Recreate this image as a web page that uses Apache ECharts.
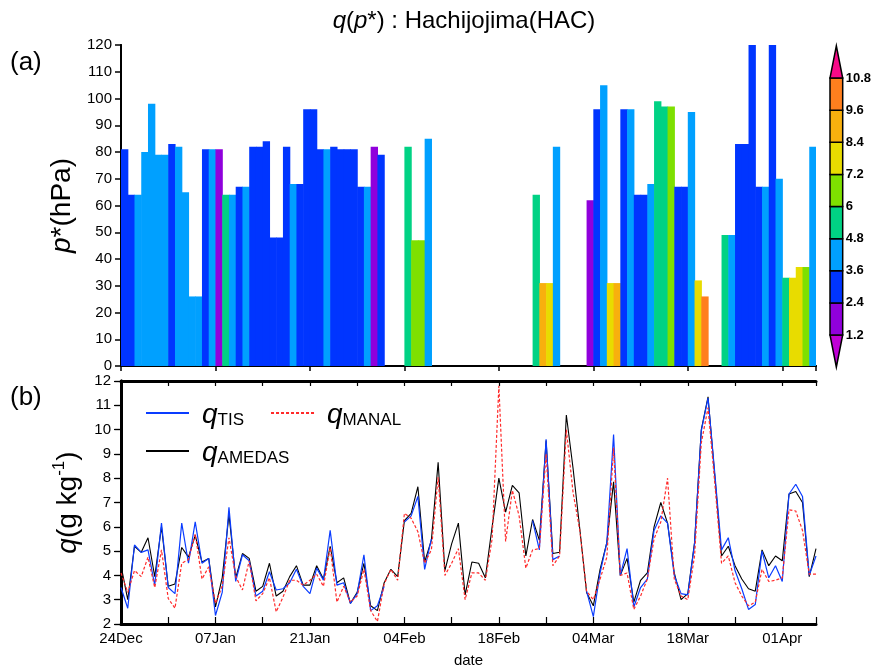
<!DOCTYPE html>
<html><head><meta charset="utf-8">
<script src="https://cdn.jsdelivr.net/npm/echarts@6/dist/echarts.min.js"></script>
<style>html,body{margin:0;padding:0;background:#fff}#c{width:874px;height:669px}</style>
</head><body><div id="c"></div>
<script>
// ---------- data ----------
const xTickDays = [0, 14, 28, 42, 56, 70, 84, 98];
const xTickLabels = ['24Dec', '07Jan', '21Jan', '04Feb', '18Feb', '04Mar', '18Mar', '01Apr'];

const qAMEDAS = [4.4,3.0,5.2,4.95,5.55,3.95,6.0,3.55,3.65,5.15,
 4.75,5.65,4.55,4.7,2.7,3.9,6.5,3.9,4.9,4.7,
 3.35,3.55,4.5,3.15,3.35,3.95,4.4,3.6,3.6,4.4,
 3.85,5.2,3.7,3.9,2.85,3.3,4.5,2.75,2.55,3.7,
 4.25,3.95,6.25,6.55,7.65,4.55,5.45,8.65,4.2,5.3,
 6.15,3.2,4.55,4.5,3.9,6.0,8.0,6.6,7.7,7.4,
 4.8,6.3,5.45,9.55,4.9,4.95,10.6,8.4,5.9,3.3,
 2.75,4.25,5.35,7.85,4.0,4.7,2.9,3.8,4.1,6.0,
 7.0,6.15,4.1,3.0,3.25,5.35,10.0,11.35,8.1,4.8,
 5.2,4.4,3.85,3.45,3.35,5.05,4.4,4.8,4.6,7.35,
 7.45,7.0,3.95,5.1];

const qTIS = [3.5,2.65,5.25,4.95,5.05,3.6,6.15,3.5,3.25,6.15,
 4.5,6.2,4.5,4.7,2.35,3.3,6.8,3.75,4.85,4.6,
 3.15,3.35,4.15,3.4,3.45,3.7,4.25,3.55,3.25,4.3,
 3.8,5.85,3.6,3.7,2.85,3.25,4.85,2.55,2.75,3.55,
 null,null,6.2,6.45,7.25,4.25,5.5,null,null,null,
 null,null,null,null,null,null,null,null,null,null,
 null,6.25,5.05,9.6,4.65,4.8,null,null,null,3.35,
 2.3,4.1,5.35,9.8,4.0,5.1,2.7,3.5,3.85,5.85,
 6.45,6.15,4.0,3.25,3.2,5.3,9.95,11.3,8.2,5.05,
 5.55,4.2,3.45,2.6,2.8,5.0,3.9,4.4,3.75,7.35,
 7.75,7.25,4.0,4.8];

const qMANAL = [4.1,3.3,4.2,3.95,4.75,3.5,5.05,3.05,2.65,4.5,
 4.65,5.7,3.85,4.35,2.85,3.55,5.55,3.95,3.4,4.6,
 2.95,3.25,3.9,2.5,3.1,3.8,3.8,3.6,3.8,4.05,
 3.55,5.15,2.9,3.55,2.9,3.15,4.25,2.55,2.1,3.65,
 4.25,3.8,6.55,6.35,5.8,4.5,5.05,8.05,4.0,4.5,
 5.1,3.0,4.1,4.1,3.8,5.5,11.8,5.4,7.5,6.45,
 4.3,5.05,5.1,9.0,4.4,4.8,10.0,7.4,5.85,3.35,
 3.0,3.85,4.75,9.25,4.0,4.1,2.6,3.15,3.85,5.5,
 6.2,8.0,3.85,3.15,3.0,4.8,9.45,10.9,7.8,4.5,
 4.8,3.7,3.15,2.75,2.9,4.25,3.75,3.8,3.9,6.7,
 6.65,5.85,4.05,4.05];

// panel (a): column top p* (hPa) per day slot, and q value colouring the column
const topP = [81,64,64,80,98,79,79,83,82,65,
 26,26,81,81,81,64,64,67,67,82,
 82,84,48,48,82,68,68,96,96,81,
 81,82,81,81,81,67,67,82,79,null,
 null,null,82,47,47,85,null,null,null,null,
 null,null,null,null,null,null,null,null,null,null,
 null,64,31,31,82,null,null,null,null,62,
 96,105,31,31,96,96,64,64,68,99,
 97,97,67,67,95,32,26,null,null,49,
 49,83,83,120,67,67,120,70,33,33,
 37,37,82];
const colQ = [3.0,3.0,4.2,4.2,4.2,4.2,4.2,3.0,4.2,4.2,
 4.2,4.2,3.0,4.2,1.8,5.4,4.2,3.0,4.2,3.0,
 3.0,3.0,3.0,3.0,3.0,4.2,3.0,3.0,3.0,3.0,
 4.2,3.0,3.0,3.0,3.0,3.0,4.2,1.8,3.0,null,
 null,null,5.4,6.6,6.6,4.2,null,null,null,null,
 null,null,null,null,null,null,null,null,null,null,
 null,5.4,9.0,7.8,4.2,null,null,null,null,1.8,
 3.0,4.2,7.8,9.0,3.0,4.2,3.0,3.0,4.2,5.4,
 5.4,6.6,3.0,3.0,4.2,7.8,10.2,null,null,5.4,
 4.2,3.0,3.0,3.0,3.0,4.2,3.0,4.2,5.4,7.8,
 7.8,6.6,4.2];

const cLevels = [1.2, 2.4, 3.6, 4.8, 6.0, 7.2, 8.4, 9.6, 10.8];
const cColors = ['#c000d6', '#9000dc', '#0035ff', '#00a0ff', '#00d284', '#7ee000', '#e8dc00', '#f8b00e', '#ff7f1e', '#f80a88'];

// ---------- chart ----------
const FONT = 'Liberation Sans, Arial, Helvetica, sans-serif';
function colorFor(q) {
  for (let i = 0; i < cLevels.length; i++) if (q < cLevels[i]) return cColors[i];
  return cColors[cLevels.length];
}
const colData = [];
topP.forEach((t, k) => { if (t != null) colData.push([k, t, colQ[k]]); });
const cbData = cColors.map((c, i) => [i]);
const toPairs = arr => arr.map((v, i) => [i, v == null ? '-' : v]);

const chart = echarts.init(document.getElementById('c'), null, { renderer: 'canvas' });
const axisLbl = { fontSize: 15, color: '#000', fontFamily: FONT };
const legendRich = {
  q: { fontSize: 28, fontStyle: 'italic', fontFamily: FONT, color: '#000', lineHeight: 32, verticalAlign: 'bottom', padding: [0, 0, 0, 8] },
  s: { fontSize: 17, fontFamily: FONT, color: '#000', lineHeight: 26, verticalAlign: 'bottom' }
};

const option = {
  animation: false,
  textStyle: { fontFamily: FONT },
  grid: [
    { left: 121, top: 45, width: 695, height: 321 },
    { left: 121, top: 381, width: 695, height: 243 },
    { left: 830, top: 78, width: 15, height: 257 }
  ],
  xAxis: [
    { gridIndex: 0, type: 'value', min: 0, max: 103, interval: 14,
      axisLine: { show: true, onZero: false, lineStyle: { color: '#000', width: 2 } },
      axisTick: { show: true, inside: false, length: 5, lineStyle: { color: '#000', width: 1.5 } },
      axisLabel: { show: false }, splitLine: { show: false } },
    { gridIndex: 0, type: 'value', position: 'top', min: 0, max: 103, interval: 14,
      axisLine: { show: true, lineStyle: { color: '#000', width: 2 } },
      axisTick: { show: false }, axisLabel: { show: false }, splitLine: { show: false } },
    { gridIndex: 1, type: 'value', min: 0, max: 103, interval: 7,
      axisLine: { show: true, onZero: false, lineStyle: { color: '#000', width: 3 } },
      axisTick: { show: true, inside: true, length: 7, lineStyle: { color: '#000', width: 1.2 } },
      axisLabel: Object.assign({ margin: 7, formatter: v => { const i = xTickDays.indexOf(v); return i >= 0 ? xTickLabels[i] : ''; } }, axisLbl),
      splitLine: { show: false },
      name: 'date', nameLocation: 'middle', nameGap: 29,
      nameTextStyle: { fontSize: 15, color: '#000', fontFamily: FONT } },
    { gridIndex: 1, type: 'value', position: 'top', min: 0, max: 103, interval: 7,
      axisLine: { show: true, lineStyle: { color: '#000', width: 3 } },
      axisTick: { show: true, inside: true, length: 5, lineStyle: { color: '#000', width: 1.2 } },
      axisLabel: { show: false }, splitLine: { show: false } },
    { gridIndex: 2, type: 'value', min: 0, max: 1, show: false }
  ],
  yAxis: [
    { gridIndex: 0, type: 'value', min: 0, max: 120, interval: 10,
      axisLine: { show: true, onZero: false, lineStyle: { color: '#000', width: 2 } },
      axisTick: { show: true, inside: false, length: 6, lineStyle: { color: '#000', width: 1.5 } },
      axisLabel: Object.assign({ margin: 9 }, axisLbl), splitLine: { show: false },
      name: '{i|p}{n|*(hPa)}', nameLocation: 'middle', nameRotate: 90, nameGap: 38,
      nameTextStyle: { rich: { i: { fontSize: 28, fontStyle: 'italic', fontFamily: FONT, color: '#000' }, n: { fontSize: 28, fontFamily: FONT, color: '#000' } } } },
    { gridIndex: 0, type: 'value', position: 'right', min: 0, max: 120, interval: 10,
      axisLine: { show: true, lineStyle: { color: '#000', width: 2 } },
      axisTick: { show: false }, axisLabel: { show: false }, splitLine: { show: false } },
    { gridIndex: 1, type: 'value', min: 2, max: 12, interval: 1,
      axisLine: { show: true, onZero: false, lineStyle: { color: '#000', width: 3 } },
      axisTick: { show: true, inside: false, length: 6, lineStyle: { color: '#000', width: 1.2 } },
      axisLabel: Object.assign({ margin: 10 }, axisLbl), splitLine: { show: false },
      name: '{i|q}{n|(g kg}{s|-1}{n|)}', nameLocation: 'middle', nameRotate: 90, nameGap: 36,
      nameTextStyle: { rich: {
        i: { fontSize: 28, fontStyle: 'italic', fontFamily: FONT, color: '#000', lineHeight: 34 },
        n: { fontSize: 28, fontFamily: FONT, color: '#000', lineHeight: 34 },
        s: { fontSize: 17, fontFamily: FONT, color: '#000', lineHeight: 17, verticalAlign: 'top' } } } },
    { gridIndex: 1, type: 'value', position: 'right', min: 2, max: 12, interval: 1,
      axisLine: { show: true, lineStyle: { color: '#000', width: 3 } },
      axisTick: { show: true, inside: true, length: 7, lineStyle: { color: '#000', width: 1.2 } },
      axisLabel: { show: false }, splitLine: { show: false } },
    { gridIndex: 2, type: 'value', position: 'right', min: 1.2, max: 10.8, interval: 1.2,
      axisLine: { show: false }, axisTick: { show: false }, splitLine: { show: false },
      axisLabel: { margin: 3, fontSize: 13, fontWeight: 'bold', color: '#000', fontFamily: FONT,
        formatter: v => String(+(+v).toFixed(1)) } }
  ],
  legend: [
    { data: ['TIS', 'MANAL'], left: 140, top: 396, orient: 'horizontal', itemWidth: 43, itemHeight: 12, itemGap: 26,
      selectedMode: false, formatter: n => '{q|q}{s|' + n + '}', itemStyle: { opacity: 0 },
      textStyle: { rich: legendRich } },
    { data: ['AMEDAS'], left: 140, top: 434, orient: 'horizontal', itemWidth: 43, itemHeight: 12,
      selectedMode: false, formatter: n => '{q|q}{s|' + n + '}', itemStyle: { opacity: 0 },
      textStyle: { rich: legendRich } }
  ],
  graphic: [
    { type: 'text', x: 464, y: 21, style: { text: '{i|q}{n|(}{i|p}{n|*) : Hachijojima(HAC)}', align: 'center', verticalAlign: 'middle',
      rich: { i: { fontSize: 24, fontStyle: 'italic', fontFamily: FONT, fill: '#000' }, n: { fontSize: 24, fontFamily: FONT, fill: '#000' } } } },
    { type: 'text', x: 10, y: 63, style: { text: '(a)', fontSize: 26, fontFamily: FONT, fill: '#000', verticalAlign: 'middle' } },
    { type: 'text', x: 10, y: 398, style: { text: '(b)', fontSize: 26, fontFamily: FONT, fill: '#000', verticalAlign: 'middle' } }
  ],
  series: [
    { type: 'custom', xAxisIndex: 0, yAxisIndex: 0, data: colData, clip: true, encode: { x: 0, y: 1 },
      renderItem: function (params, api) {
        const k = api.value(0), top = api.value(1), q = api.value(2);
        const p0 = api.coord([k, 0]), p1 = api.coord([k + 1, top]);
        return { type: 'rect', shape: { x: p0[0], y: p1[1], width: p1[0] - p0[0] + 0.6, height: p0[1] - p1[1] },
          style: { fill: colorFor(q) } };
      } },
    { type: 'custom', xAxisIndex: 4, yAxisIndex: 4, data: cbData, clip: false, silent: true,
      renderItem: function (params, api) {
        const i = api.value(0), n = cColors.length;
        const st = { fill: cColors[i], stroke: '#000', lineWidth: 1.5 };
        if (i === 0) {
          return { type: 'polygon', shape: { points: [api.coord([0, cLevels[0]]), api.coord([1, cLevels[0]]), api.coord([0.5, 0])] }, style: st };
        }
        if (i === n - 1) {
          const t = cLevels[cLevels.length - 1];
          return { type: 'polygon', shape: { points: [api.coord([0, t]), api.coord([1, t]), api.coord([0.5, t + 1.2])] }, style: st };
        }
        const a = api.coord([0, cLevels[i - 1]]), b = api.coord([1, cLevels[i]]);
        return { type: 'rect', shape: { x: a[0], y: b[1], width: b[0] - a[0], height: a[1] - b[1] }, style: st };
      } },
    { name: 'AMEDAS', type: 'line', xAxisIndex: 2, yAxisIndex: 2, data: toPairs(qAMEDAS), showSymbol: false, symbol: 'none',
      lineStyle: { color: '#000', width: 1.1 }, itemStyle: { color: '#000' } },
    { name: 'TIS', type: 'line', xAxisIndex: 2, yAxisIndex: 2, data: toPairs(qTIS), showSymbol: false, symbol: 'none', connectNulls: false,
      lineStyle: { color: '#0a3cff', width: 1.2 }, itemStyle: { color: '#0a3cff' } },
    { name: 'MANAL', type: 'line', xAxisIndex: 2, yAxisIndex: 2, data: toPairs(qMANAL), showSymbol: false, symbol: 'none',
      lineStyle: { color: '#ff2a2a', width: 1.2, type: [3, 2] }, itemStyle: { color: '#ff2a2a' } }
  ]
};
chart.setOption(option);
</script>
</body></html>
